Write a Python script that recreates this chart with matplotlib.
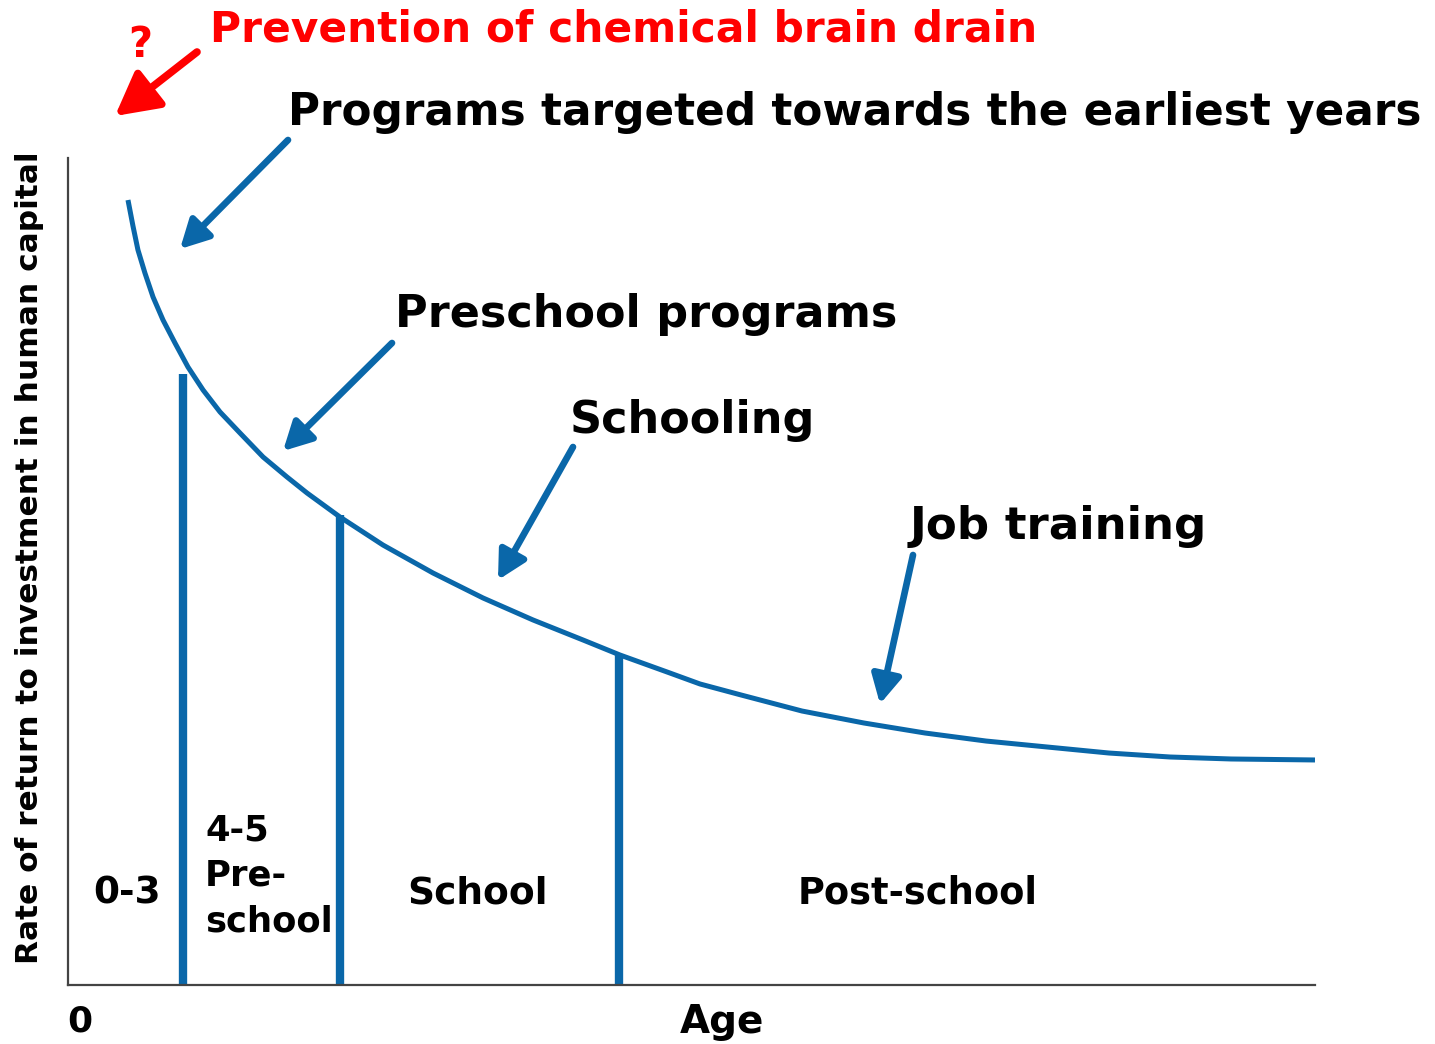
import matplotlib
matplotlib.use("Agg")
import matplotlib.pyplot as plt
from matplotlib.patches import FancyArrowPatch

# curve (age units 0-100, return units 0-100)
age = [4.81, 5.21, 5.61, 6.17, 6.82, 7.62, 8.58, 9.62, 10.83, 12.19, 13.79,
       15.64, 17.56, 19.17, 21.81, 25.26, 29.27, 33.28, 37.29, 41.30, 44.27,
       48.04, 50.68, 53.97, 58.86, 63.83, 68.73, 73.62, 78.51, 83.48, 88.37,
       93.26, 100.0]
ret = [94.92, 91.78, 88.88, 86.09, 83.19, 80.41, 77.63, 74.73, 71.95, 69.29,
       66.75, 63.85, 61.43, 59.49, 56.59, 53.20, 49.82, 46.80, 44.14, 41.72,
       39.90, 37.85, 36.40, 35.07, 33.13, 31.68, 30.47, 29.50, 28.78, 28.05,
       27.57, 27.33, 27.21]

# stage boundaries: x position and top of the divider
bound_x = [9.2, 21.8, 44.2]
bound_top = [73.9, 56.8, 39.9]

stage_labels = ["0-3", "4-5\nPre-\nschool", "School", "Post-school"]
stage_x = [2.0, 11.0, 27.2, 58.5]
stage_y = [11.1, 13.2, 11.1, 11.1]
stage_size = [27, 25.5, 27, 26.5]

BLUE = "#0a67a9"
RED = "#ff0000"
W, H = 1435, 1044

def fx(px):
    return px / W

def fy(py):
    return 1 - py / H

fig = plt.figure(figsize=(W / 100, H / 100), dpi=100)
ax = fig.add_axes([fx(68), fy(985), 1247 / W, 827 / H])
ax.set_xlim(0, 100)
ax.set_ylim(0, 100)
for s in ("top", "right"):
    ax.spines[s].set_visible(False)
for s in ("left", "bottom"):
    ax.spines[s].set_color("#444444")
    ax.spines[s].set_linewidth(1.6)
ax.set_xticks([])
ax.set_yticks([])

ax.plot(age, ret, color=BLUE, lw=3.6, solid_capstyle="butt",
        solid_joinstyle="round")
ax.vlines(bound_x, 0, bound_top, color=BLUE, lw=6)

font = "DejaVu Sans"
for lab, x, y, sz in zip(stage_labels, stage_x, stage_y, stage_size):
    ax.text(x, y, lab, fontsize=sz, fontweight="bold", family=font,
            ha="left", va="center", linespacing=1.42)

fig.text(fx(80), fy(1022), "0", fontsize=26, fontweight="bold", family=font,
         ha="center", va="center")
fig.text(fx(722), fy(1022), "Age", fontsize=28, fontweight="bold", family=font,
         ha="center", va="center")
fig.text(fx(30), fy(558), "Rate of return to investment in human capital",
         rotation=90, fontsize=22.5, fontweight="bold", family=font,
         ha="center", va="center")

# annotations: (label, text pos px, arrow start px, arrow tip px, size)
notes = [
    ("Programs targeted towards the earliest years", (288, 112), (288, 140), (180, 249), 31.5),
    ("Preschool programs", (395, 315), (392, 343), (283, 451), 32),
    ("Schooling", (570, 420), (573, 447), (498, 580), 32),
    ("Job training", (910, 527), (913, 555), (880, 704), 32.5),
]
for lab, tpos, start, tip, size in notes:
    fig.text(fx(tpos[0]), fy(tpos[1]), lab, fontsize=size, fontweight="bold",
             family=font, ha="left", va="center")
    fig.add_artist(FancyArrowPatch(
        (fx(start[0]), fy(start[1])), (fx(tip[0]), fy(tip[1])),
        transform=fig.transFigure, arrowstyle="-|>,head_length=17,head_width=9",
        color=BLUE, lw=4.8, mutation_scale=1, shrinkA=0, shrinkB=0))

fig.text(fx(210), fy(30), "Prevention of chemical brain drain", fontsize=30.5,
         fontweight="bold", family=font, color=RED, ha="left", va="center")
fig.text(fx(140), fy(45), "?", fontsize=30, fontweight="bold", family=font,
         color=RED, ha="center", va="center")
fig.add_artist(FancyArrowPatch(
    (fx(197), fy(52)), (fx(115), fy(116)), transform=fig.transFigure,
    arrowstyle="-|>,head_length=26,head_width=14", color=RED, lw=5.5,
    mutation_scale=1, shrinkA=0, shrinkB=0))

fig.savefig("out.png", dpi=100)
